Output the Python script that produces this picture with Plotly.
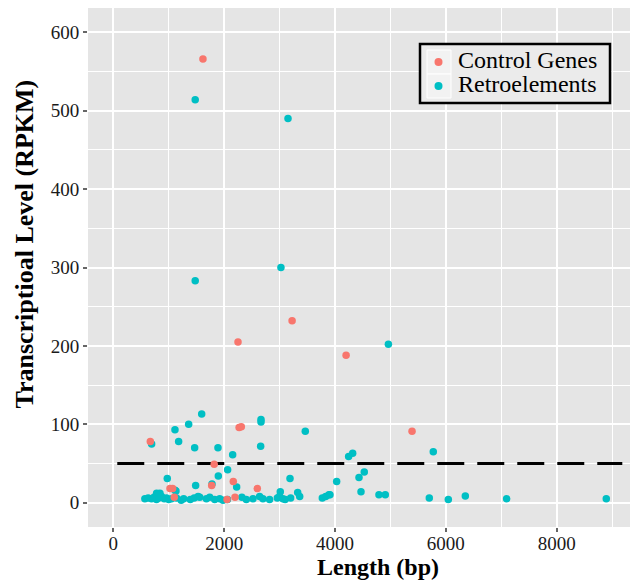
import plotly.graph_objects as go

# Control genes: length (bp), RPKM
ctrl_len = [1618, 3226, 2250, 4200, 2270, 2310, 5390, 668, 1820, 2165, 1775, 2598, 1023, 1071, 1100, 2196, 2052]
ctrl_rpkm = [566, 232, 205, 188, 96, 97, 91, 78, 49, 27, 22, 18, 18, 18, 7, 7, 4]

# Retroelements: length (bp), RPKM
retro_len = [1478, 3152, 3025, 1478, 4963,
             1595, 2665, 2665, 1360, 1113, 3464,
             692, 1179, 2659, 1468, 1889, 5773, 4319, 4246, 2154,
             2063, 4528, 1895, 974, 3188, 4433, 4030, 1486, 1781, 2226,
             4469, 1113, 3013, 3327, 3363, 4793, 4907, 3771, 3832, 3891, 3200,
             5701, 6044, 6351, 7097, 8894, 842, 782, 1131, 3909,
             570, 630, 690, 735, 780, 820, 870, 920, 960, 1000, 1050, 1140, 1225, 1270,
             1390, 1460, 1530, 1560, 1680, 1740, 1830, 1920, 1980, 2060,
             2320, 2400, 2520, 2640, 2700, 2820, 2960, 3000, 3060, 3100]
retro_rpkm = [514, 490, 300, 283, 202,
              113, 106, 103, 100, 93, 91,
              75, 78, 72, 70, 70, 65, 63, 59, 61,
              42, 39, 34, 31, 31, 32, 27, 22, 24, 20,
              14, 16, 14, 13, 8, 10, 10, 6, 8, 10, 6,
              6, 4, 8.5, 5, 5, 12, 12, 15, 10,
              5, 6, 5, 7, 4, 6, 8, 5, 6, 4, 5, 6, 3, 5,
              4, 6, 8, 7, 5, 7, 4, 5, 3, 4,
              7, 4, 5, 8, 5, 4, 6, 8, 5, 4]

threshold = 50
thr_x = [72, 9183]

x_ticks = [0, 2000, 4000, 6000, 8000]
y_ticks = [0, 100, 200, 300, 400, 500, 600]

series_names = ["Control Genes", "Retroelements"]
series_colors = ["#F8766D", "#00BFC4"]

font_family = "Liberation Serif, Times New Roman, serif"

W, H = 630, 582
ML, MR, MT, MB = 88, 0, 8, 55
PW = W - ML - MR
PH = H - MT - MB


def px_x(px):
    return (px - ML) / PW


def px_y(py):
    return (H - MB - py) / PH


fig = go.Figure()

fig.add_trace(go.Scatter(
    x=thr_x, y=[threshold, threshold], mode="lines",
    line=dict(color="black", width=3, dash="27px,13px"),
    showlegend=False, hoverinfo="skip"))

fig.add_trace(go.Scatter(
    x=retro_len, y=retro_rpkm, mode="markers", name=series_names[1],
    marker=dict(color=series_colors[1], size=7.5, line=dict(width=0)),
    showlegend=False))

fig.add_trace(go.Scatter(
    x=ctrl_len, y=ctrl_rpkm, mode="markers", name=series_names[0],
    marker=dict(color=series_colors[0], size=7.5, line=dict(width=0)),
    showlegend=False))

axis_common = dict(
    showline=False, zeroline=False,
    gridcolor="white", gridwidth=2,
    ticks="outside", ticklen=4, tickwidth=2, tickcolor="#666666",
    tickfont=dict(family=font_family, size=19, color="#1a1a1a"),
)

fig.update_xaxes(
    range=[-456, 9322], tickvals=x_ticks, ticklabelstandoff=-5,
    minor=dict(dtick=1000, tick0=1000, showgrid=True, gridcolor="white", gridwidth=1, ticks=""),
    **axis_common)
fig.update_yaxes(
    range=[-31, 631], tickvals=y_ticks,
    minor=dict(dtick=100, tick0=50, showgrid=True, gridcolor="white", gridwidth=1, ticks=""),
    **axis_common)

annotations = [
    dict(text="<b>Length (bp)</b>", xref="paper", yref="paper",
         x=px_x(377.7), y=px_y(567), xanchor="center", yanchor="middle",
         showarrow=False, font=dict(family=font_family, size=24, color="black")),
    dict(text="<b>Transcriptioal Level (RPKM)</b>", xref="paper", yref="paper",
         x=px_x(24), y=px_y(244.5), xanchor="center", yanchor="middle", textangle=-90,
         showarrow=False, font=dict(family=font_family, size=26, color="black")),
]

shapes = [
    dict(type="rect", xref="paper", yref="paper",
         x0=px_x(420), x1=px_x(610), y0=px_y(103), y1=px_y(44),
         fillcolor="#EBEBEB", line=dict(color="black", width=2.5), layer="above"),
]

row_centers = [62, 86]
for name, color, yc in zip(series_names, series_colors, row_centers):
    shapes.append(dict(type="rect", xref="paper", yref="paper",
                       x0=px_x(427), x1=px_x(451), y0=px_y(yc + 12), y1=px_y(yc - 12),
                       fillcolor="#F2F2F2", line=dict(color="white", width=1), layer="above"))
    shapes.append(dict(type="circle", xref="paper", yref="paper",
                       xsizemode="pixel", ysizemode="pixel",
                       xanchor=px_x(438.5), yanchor=px_y(yc),
                       x0=-4, x1=4, y0=-4, y1=4,
                       fillcolor=color, line=dict(width=0), layer="above"))
    annotations.append(dict(text=name, xref="paper", yref="paper",
                            x=px_x(456), y=px_y(yc - 2), xanchor="left", yanchor="middle",
                            showarrow=False,
                            font=dict(family=font_family, size=24, color="black")))

fig.update_layout(
    width=W, height=H,
    margin=dict(l=ML, r=MR, t=MT, b=MB),
    paper_bgcolor="white", plot_bgcolor="#E5E5E5",
    font=dict(family=font_family),
    showlegend=False,
    annotations=annotations,
    shapes=shapes,
)

fig.write_html("out.html")
